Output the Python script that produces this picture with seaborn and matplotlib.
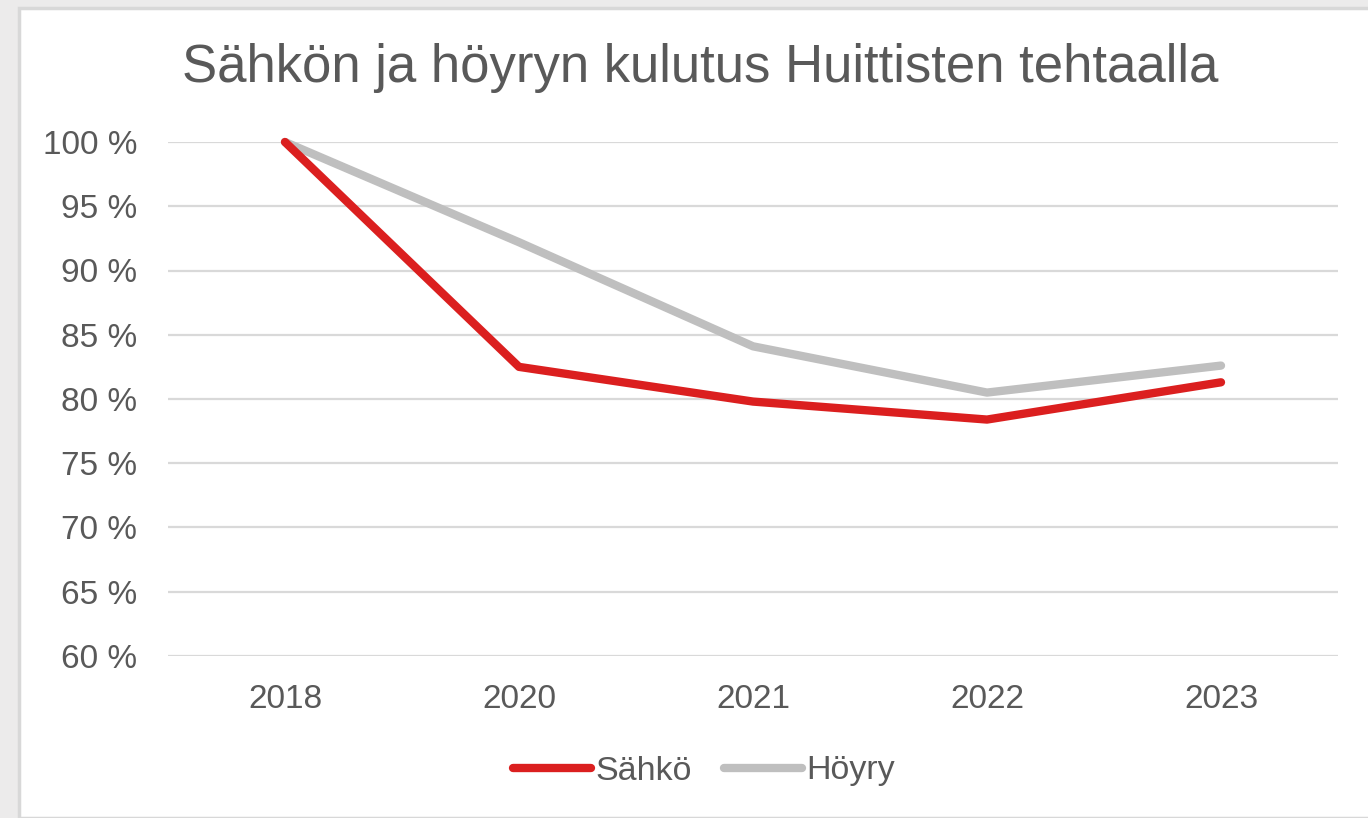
import matplotlib
matplotlib.use("Agg")
import matplotlib.pyplot as plt
import seaborn as sns
import pandas as pd
from matplotlib.patches import Rectangle
from matplotlib.ticker import FuncFormatter, MultipleLocator

years = ["2018", "2020", "2021", "2022", "2023"]
sahko = [100.0, 82.5, 79.8, 78.4, 81.3]
hoyry = [100.0, 92.2, 84.1, 80.5, 82.6]
series_names = ["Sähkö", "Höyry"]
title = "Sähkön ja höyryn kulutus Huittisten tehtaalla"

df = pd.DataFrame({
    "Vuosi": years * 2,
    "Arvo": sahko + hoyry,
    "Sarja": [series_names[0]] * len(years) + [series_names[1]] * len(years),
})

sns.set_theme(style="white")
plt.rcParams["font.family"] = ["Liberation Sans", "DejaVu Sans"]

text_col = "#595959"
fig = plt.figure(figsize=(13.68, 8.18), dpi=100, facecolor="#ecebeb")
# white chart area
bg = Rectangle((19 / 1368, 0), 1.0, 1 - 8 / 818, transform=fig.transFigure,
               facecolor="white", edgecolor="#d8d8d8", linewidth=2.5, zorder=-10)
fig.patches.append(bg)

ax = fig.add_axes([168 / 1368, 1 - 656 / 818, (1338 - 168) / 1368, (656 - 142) / 818])
ax.set_facecolor("none")
ax.set_zorder(5)

sns.lineplot(data=df, x="Vuosi", y="Arvo", hue="Sarja", sort=False,
             palette={"Sähkö": "#db1f1f", "Höyry": "#bfbfbf"},
             hue_order=["Höyry", "Sähkö"],
             linewidth=6.0, solid_capstyle="round", ax=ax, clip_on=False)

ax.set_xlim(-0.5, 4.5)
ax.set_ylim(60, 100)
ax.yaxis.set_major_locator(MultipleLocator(5))
ax.yaxis.set_major_formatter(FuncFormatter(lambda v, p: f"{int(round(v))} %"))
ax.grid(axis="y", color="#d9d9d9", linewidth=1.6)
ax.set_axisbelow(True)
for s in ax.spines.values():
    s.set_visible(False)
ax.set_xlabel("")
ax.set_ylabel("")
ax.tick_params(axis="both", length=0, labelsize=24, labelcolor=text_col)
ax.tick_params(axis="y", pad=22)
ax.tick_params(axis="x", pad=20)

handles, labels = ax.get_legend_handles_labels()
ax.get_legend().remove()
order = [labels.index(n) for n in series_names]
fig.legend([handles[i] for i in order], [labels[i] for i in order],
           loc="center", bbox_to_anchor=(704 / 1368, 1 - 771 / 818), ncol=2,
           frameon=False, fontsize=24.5, labelcolor=text_col,
           handlelength=2.3, handletextpad=0.12, columnspacing=0.95)

fig.text(700 / 1368, 1 - 68 / 818, title, ha="center", va="center",
         fontsize=38, color=text_col)

fig.savefig("out.png", dpi=100, facecolor=fig.get_facecolor())
